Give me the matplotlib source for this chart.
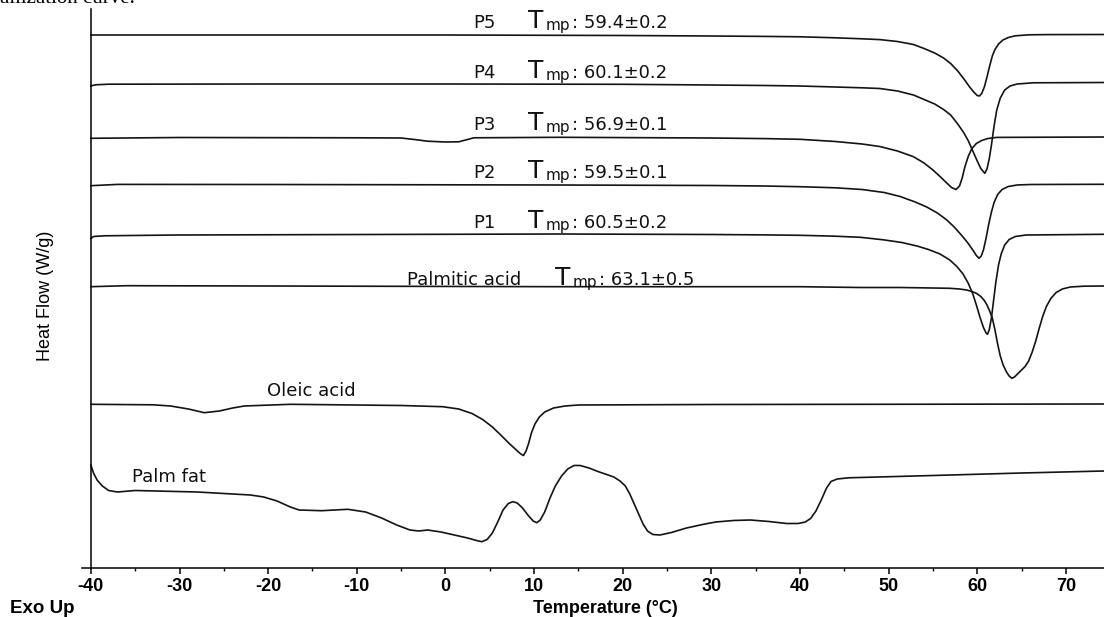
import matplotlib
matplotlib.use("Agg")
import matplotlib.pyplot as plt

plt.rcParams["axes.unicode_minus"] = False

# DSC heating curves, heat flow in W/g (curves stacked with offsets)
p5_t = [-40, -20, 0, 20, 30, 36, 40, 44, 47, 49, 51, 52.8, 54, 55.2, 56.2,
        57.0, 57.8, 58.5, 59.1, 59.6, 60.0, 60.25, 60.5, 60.8, 61.1, 61.4, 61.7, 62.0, 62.4, 62.9,
        63.5, 64.3, 65.9, 68, 74.3]
p5_hf = [5.33, 5.33, 5.33, 5.325, 5.32, 5.316, 5.312, 5.302, 5.292, 5.284, 5.265, 5.235, 5.195, 5.15, 5.10,
         5.045, 4.97, 4.89, 4.815, 4.76, 4.725, 4.72, 4.745, 4.81, 4.91, 5.02, 5.12, 5.185, 5.24, 5.28,
         5.305, 5.322, 5.332, 5.334, 5.335]

p4_t = [-40, -39.5, -38, -20, 0, 20, 30, 36, 40, 44, 47, 49, 51, 52.8, 54,
        55.2, 56.2, 57.0, 57.8, 58.5, 59.0, 59.5, 60.0, 60.4, 60.85, 61.1, 61.35, 61.6, 61.9, 62.2,
        62.6, 63.1, 63.7, 64.5, 66.3, 74.3]
p4_hf = [4.82, 4.832, 4.838, 4.84, 4.84, 4.837, 4.83, 4.825, 4.82, 4.81, 4.802, 4.795, 4.77, 4.73, 4.685,
         4.64, 4.585, 4.53, 4.44, 4.35, 4.27, 4.17, 4.07, 3.995, 3.947, 3.99, 4.09, 4.23, 4.42, 4.58,
         4.70, 4.78, 4.82, 4.84, 4.852, 4.855]

p3_t = [-40, -30, -10, -5, -3.5, -2, 0, 1.5, 2.5, 3.2, 12.9, 30, 36, 40, 44,
        47, 49, 51, 52.8, 54, 55.0, 55.8, 56.5, 57.1, 57.6, 58.0, 58.3, 58.6, 59.0, 59.4,
        59.9, 60.5, 61.2, 62.2, 74.3]
p3_hf = [4.297, 4.305, 4.302, 4.30, 4.285, 4.268, 4.26, 4.262, 4.285, 4.302, 4.307, 4.30, 4.294, 4.287, 4.265,
         4.24, 4.215, 4.17, 4.113, 4.05, 3.98, 3.915, 3.855, 3.805, 3.785, 3.82, 3.90, 4.01, 4.12, 4.195,
         4.245, 4.275, 4.295, 4.306, 4.31]

p2_t = [-40, -37, -20, 12.9, 30, 36, 40, 44, 47, 49.5, 51.3, 53, 54.3, 55.5, 56.5,
        57.4, 58.2, 58.9, 59.5, 59.9, 60.2, 60.45, 60.7, 61.0, 61.3, 61.6, 61.9, 62.3, 62.8, 63.5,
        64.5, 66, 74.3]
p2_hf = [3.823, 3.836, 3.835, 3.83, 3.825, 3.82, 3.813, 3.802, 3.785, 3.755, 3.715, 3.66, 3.61, 3.55, 3.485,
         3.41, 3.33, 3.255, 3.18, 3.125, 3.097, 3.12, 3.18, 3.30, 3.44, 3.56, 3.655, 3.735, 3.785, 3.815,
         3.83, 3.835, 3.837]

p1_t = [-40, -39.7, -38.5, -30.3, 12.9, 30, 36, 40, 44, 46.8, 49.4, 51.5, 53.2, 54.5, 55.8,
        56.9, 57.7, 58.4, 59.0, 59.5, 59.9, 60.3, 60.7, 61.0, 61.15, 61.35, 61.6, 61.85, 62.1, 62.4,
        62.7, 63.1, 63.6, 64.3, 65.5, 74.3]
p1_hf = [3.295, 3.315, 3.322, 3.33, 3.34, 3.335, 3.331, 3.327, 3.318, 3.307, 3.282, 3.255, 3.22, 3.185, 3.14,
         3.08, 3.015, 2.94, 2.845, 2.74, 2.63, 2.51, 2.405, 2.35, 2.337, 2.38, 2.50, 2.68, 2.86, 3.03,
         3.14, 3.23, 3.285, 3.315, 3.33, 3.337]

pa_t = [-40, -36, -20, 12.9, 40, 46.8, 51.3, 55, 56.9, 58.0, 58.8, 59.4, 59.9, 60.4, 60.8,
        61.1, 61.4, 61.7, 62.0, 62.3, 62.6, 62.9, 63.3, 63.6, 63.9, 64.2, 64.6, 65.0, 65.4, 65.8,
        66.2, 66.6, 67.0, 67.4, 67.8, 68.3, 68.9, 69.6, 70.5, 72, 74.3]
pa_hf = [2.813, 2.823, 2.82, 2.813, 2.813, 2.805, 2.805, 2.80, 2.797, 2.79, 2.78, 2.765, 2.747, 2.715, 2.675,
         2.63, 2.57, 2.50, 2.38, 2.24, 2.12, 2.035, 1.96, 1.92, 1.897, 1.91, 1.945, 1.98, 2.015, 2.07,
         2.16, 2.27, 2.40, 2.52, 2.615, 2.695, 2.755, 2.79, 2.81, 2.818, 2.82]

oa_t = [-40, -33, -31, -29, -27.2, -25.5, -24, -22.7, -17.5, -5, -0.3, 1.5, 3.0, 4.2, 5.3,
        6.3, 7.2, 8.0, 8.5, 8.8, 9.1, 9.4, 9.7, 10.1, 10.6, 11.2, 12.2, 13.5, 15, 30, 74.3]
oa_hf = [1.637, 1.632, 1.62, 1.59, 1.553, 1.57, 1.60, 1.62, 1.637, 1.625, 1.613, 1.59, 1.545, 1.485, 1.41,
         1.325, 1.245, 1.18, 1.14, 1.125, 1.17, 1.25, 1.35, 1.44, 1.51, 1.56, 1.60, 1.62, 1.63, 1.635, 1.64]

pf_t = [-40, -39.7, -39.3, -38.7, -38.0, -37.0, -35, -28, -22, -20.5, -19, -17.5, -16.5, -14, -11,
        -9, -7.2, -5.5, -4, -3, -2, -0.5, 1, 2.5, 3.5, 4.1, 4.7, 5.3, 5.9, 6.5,
        7.1, 7.6, 8.1, 8.7, 9.3, 9.9, 10.3, 10.7, 11.2, 11.8, 12.4, 13.1, 13.8, 14.5, 15.2,
        16.2, 17.2, 18.2, 19.0, 19.7, 20.3, 20.8, 21.3, 21.8, 22.3, 22.8, 23.4, 24.2, 25.5, 27.2,
        29, 30.5, 32.5, 34.4, 36.5, 38.5, 39.8, 40.6, 41.2, 41.8, 42.4, 43.0, 43.5, 44.2, 45.5,
        55, 65, 74.3]
pf_hf = [1.03, 0.95, 0.88, 0.82, 0.775, 0.76, 0.775, 0.76, 0.73, 0.71, 0.67, 0.61, 0.58, 0.573, 0.587,
         0.56, 0.50, 0.43, 0.38, 0.37, 0.38, 0.36, 0.33, 0.30, 0.275, 0.263, 0.285, 0.35, 0.46, 0.58,
         0.645, 0.663, 0.65, 0.60, 0.53, 0.47, 0.453, 0.48, 0.56, 0.70, 0.82, 0.92, 0.99, 1.025, 1.025,
         1.00, 0.965, 0.935, 0.91, 0.87, 0.82, 0.74, 0.64, 0.54, 0.44, 0.37, 0.335, 0.33, 0.355, 0.40,
         0.435, 0.46, 0.475, 0.48, 0.465, 0.445, 0.445, 0.46, 0.495, 0.57, 0.68, 0.80, 0.865, 0.89, 0.902,
         0.925, 0.95, 0.97]

sample_names = ["P5", "P4", "P3", "P2", "P1", "Palmitic acid"]
tmp_values = ["59.4±0.2", "60.1±0.2", "56.9±0.1", "59.5±0.1", "60.5±0.2", "63.1±0.5"]

curves = [(p5_t, p5_hf), (p4_t, p4_hf), (p3_t, p3_hf), (p2_t, p2_hf),
          (p1_t, p1_hf), (pa_t, pa_hf), (oa_t, oa_hf), (pf_t, pf_hf)]

W, H = 1104, 617
fig = plt.figure(figsize=(W / 100, H / 100), dpi=100)
ax = fig.add_axes([82 / W, 1 - 568 / H, 1 - 82 / W, (568 - 9) / H])

line_col = "#141414"
for t, hf in curves:
    ax.plot(t, hf, color=line_col, lw=1.2, solid_joinstyle="round")

ax.set_xlim(-41, 74.3)
ax.set_ylim(0, 5.59)
ax.spines["top"].set_visible(False)
ax.spines["right"].set_visible(False)
ax.spines["left"].set_position(("data", -40))
ax.spines["left"].set_linewidth(1.1)
ax.spines["bottom"].set_linewidth(1.1)
ax.set_yticks([])
ax.set_xticks(range(-40, 71, 10))
ax.set_xticks(range(-35, 71, 10), minor=True)
ax.tick_params(axis="x", which="major", direction="out", length=4, width=1.1, pad=3)
ax.tick_params(axis="x", which="minor", direction="out", length=2.5, width=1.0)
for lab in ax.get_xticklabels():
    lab.set_fontfamily("Liberation Sans")
    lab.set_fontweight("bold")
    lab.set_fontsize(13)

# curve labels
ann = dict(family="DejaVu Sans", color="#111111")
rows_y = [5.40, 4.90, 4.38, 3.90, 3.40, 2.83]
for i, (name, val) in enumerate(zip(sample_names, tmp_values)):
    yb = rows_y[i]
    if len(name) == 2:
        xs = [3.1, 9.3, 11.33, 14.3]
    else:
        xs = [-4.35, 12.35, 14.38, 17.3]
    ax.text(xs[0], yb, name, fontsize=13, va="baseline", ha="left", **ann)
    ax.text(xs[1], yb, "T", fontsize=18, va="baseline", ha="left", **ann)
    ax.text(xs[2], yb - 0.02, "mp", fontsize=11, va="baseline", ha="left", **ann)
    ax.text(xs[3], yb, ": " + val, fontsize=13, va="baseline", ha="left", **ann)

ax.text(-20.14, 1.72, "Oleic acid", fontsize=13, va="baseline", ha="left", **ann)
ax.text(-35.37, 0.86, "Palm fat", fontsize=13, va="baseline", ha="left", **ann)

fig.text(605 / W, 1 - 613 / H, "Temperature (°C)", family="Liberation Sans",
         fontweight="bold", fontsize=13, ha="center", va="baseline")
fig.text(10 / W, 1 - 613 / H, "Exo Up", family="Liberation Sans",
         fontweight="bold", fontsize=13.5, ha="left", va="baseline")
fig.text(46 / W, 1 - 296 / H, "Heat Flow (W/g)", family="Liberation Sans",
         fontsize=13, rotation=90, ha="center", va="center")
fig.text(0.0, 1 - 3 / H, "allization curve.", family="Liberation Serif",
         fontsize=15, ha="left", va="baseline")

fig.savefig("out.png", dpi=100)
